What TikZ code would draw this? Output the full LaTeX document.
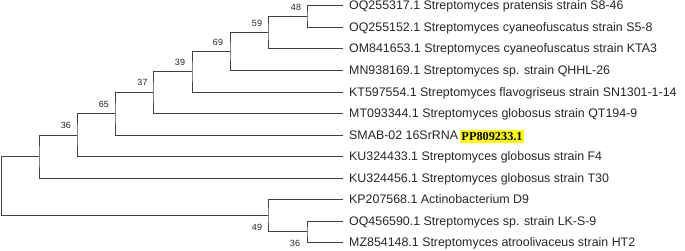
\documentclass[tikz,border=0pt]{standalone}
\usepackage{fontspec}
\setmainfont{Liberation Sans}
\newfontfamily\accfont{Liberation Serif}
\definecolor{branch}{HTML}{404040}
\definecolor{txt}{HTML}{262626}
\definecolor{hlyellow}{HTML}{FFFF00}
\begin{document}
\begin{tikzpicture}[x=1pt,y=-1pt,
  br/.style={draw=branch,line width=0.9pt},
  leaf/.style={anchor=base west,inner sep=0pt,text=txt,font=\fontsize{12.4}{14}\selectfont},
  boot/.style={inner sep=0pt,text=txt,font=\fontsize{9}{10}\selectfont},
  hl/.style={fill=hlyellow,inner xsep=1pt,inner ysep=2pt,anchor=west,font=\accfont\bfseries\fontsize{12.3}{14}\selectfont}]
\useasboundingbox (0,0) rectangle (685,251);
% leaf tips
\coordinate (t1) at (343,5);
\coordinate (t2) at (343,27);
\coordinate (t3) at (343,48);
\coordinate (t4) at (343,70);
\coordinate (t5) at (343,92);
\coordinate (t6) at (343,113);
\coordinate (t7) at (343,135);
\coordinate (t8) at (343,156);
\coordinate (t9) at (343,178);
\coordinate (t10) at (343,199);
\coordinate (t11) at (343,221);
\coordinate (t12) at (343,242);
% internal nodes
\coordinate (n48) at (307,16);
\coordinate (n59) at (268,32);
\coordinate (n69) at (230,51);
\coordinate (n39) at (192,71.5);
\coordinate (n37) at (153,92);
\coordinate (n65) at (115,113.5);
\coordinate (n36a) at (77,135);
\coordinate (nu) at (39,156.5);
\coordinate (n36b) at (307,231.5);
\coordinate (n49) at (268,215);
\coordinate (root) at (1.5,186);
% branches
\draw[br] (t1) -| (n48) |- (t2);
\draw[br] (n48) -| (n59) |- (t3);
\draw[br] (n59) -| (n69) |- (t4);
\draw[br] (n69) -| (n39) |- (t5);
\draw[br] (n39) -| (n37) |- (t6);
\draw[br] (n37) -| (n65) |- (t7);
\draw[br] (n65) -| (n36a) |- (t8);
\draw[br] (n36a) -| (nu) |- (t9);
\draw[br] (t11) -| (n36b) |- (t12);
\draw[br] (t10) -| (n49) |- (n36b);
\draw[br] (nu) -| (root) |- (n49);
% leaf labels
\node[leaf] (l1) at (349,9.3) {OQ255317.1 Streptomyces pratensis strain S8-46};
\node[leaf] (l2) at (349,31.3) {OQ255152.1 Streptomyces cyaneofuscatus strain S5-8};
\node[leaf] (l3) at (349,52.3) {OM841653.1 Streptomyces cyaneofuscatus strain KTA3};
\node[leaf] (l4) at (349,74.3) {MN938169.1 Streptomyces sp. strain QHHL-26};
\node[leaf] (l5) at (349,96.3) {KT597554.1 Streptomyces flavogriseus strain SN1301-1-14};
\node[leaf] (l6) at (349,117.3) {MT093344.1 Streptomyces globosus strain QT194-9};
\node[leaf] (l7) at (349,139.3) {SMAB-02 16SrRNA};
\node[hl] (acc) at ([xshift=2pt]l7.east |- 0,136.5) {PP809233.1};
\node[leaf] (l8) at (349,160.3) {KU324433.1 Streptomyces globosus strain F4};
\node[leaf] (l9) at (349,182.3) {KU324456.1 Streptomyces globosus strain T30};
\node[leaf] (l10) at (349,203.3) {KP207568.1 Actinobacterium D9};
\node[leaf] (l11) at (349,225.3) {OQ456590.1 Streptomyces sp. strain LK-S-9};
\node[leaf] (l12) at (349,246.3) {MZ854148.1 Streptomyces atroolivaceus strain HT2};
% bootstrap values
\node[boot] (b48) at ([shift={(-11,-9)}]n48) {48};
\node[boot] (b59) at ([shift={(-11,-9)}]n59) {59};
\node[boot] (b69) at ([shift={(-12,-9)}]n69) {69};
\node[boot] (b39) at ([shift={(-12,-9.5)}]n39) {39};
\node[boot] (b37) at ([shift={(-10.5,-10)}]n37) {37};
\node[boot] (b65) at ([shift={(-11,-9.5)}]n65) {65};
\node[boot] (b36a) at ([shift={(-11,-10)}]n36a) {36};
\node[boot] (b49) at ([shift={(-11,12)}]n49) {49};
\node[boot] (b36b) at ([shift={(-12,11.5)}]n36b) {36};
\end{tikzpicture}
\end{document}
